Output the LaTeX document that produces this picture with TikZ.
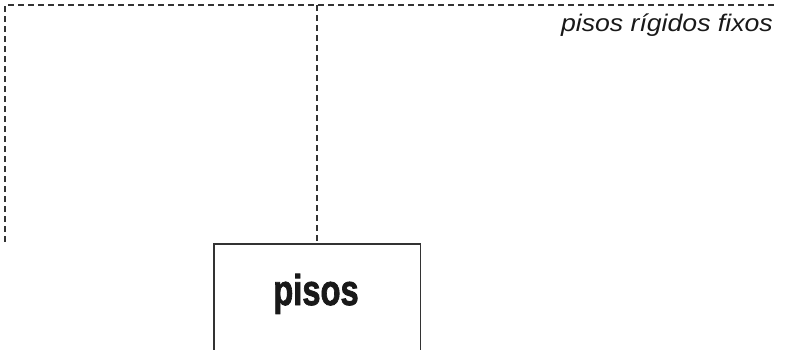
\documentclass[tikz,border=0pt]{standalone}
\usepackage{fontspec}
\setmainfont{Liberation Sans}
\newfontfamily\heavyfont[FakeBold=2]{Liberation Sans Bold}
\begin{document}
\begin{tikzpicture}[x=1pt,y=-1pt,
  guide/.style={draw=black!80,line width=1.2pt,dash pattern=on 6pt off 4pt},
  boxline/.style={draw=black!80,line width=1.2pt},
  lbl/.style={inner sep=0pt,text=black!90}]
\useasboundingbox (0,0) rectangle (794,349);
\coordinate (tl) at (5,5);
\coordinate (tr) at (776,5);
\coordinate (ll) at (5,242);
\coordinate (tm) at (317,5);
\node[inner sep=0pt,minimum width=206pt,minimum height=120pt,anchor=north west] (box) at (214,244) {};
\draw[guide] (ll) -- (tl) -- (tr);
\draw[guide] (tm) -- (tm |- box.north);
\draw[boxline] (box.south west) -- (box.north west) -- (box.north east) -- (box.south east);
\node[lbl,anchor=base] (t1) at (316,305) {\fontsize{43pt}{43pt}\heavyfont\scalebox{0.76}[1]{pisos}};
\node[lbl,anchor=base east] (t2) at (773,31) {\fontsize{24pt}{26pt}\selectfont\scalebox{1.11}[1]{\itshape pisos rígidos fixos}};
\end{tikzpicture}
\end{document}
